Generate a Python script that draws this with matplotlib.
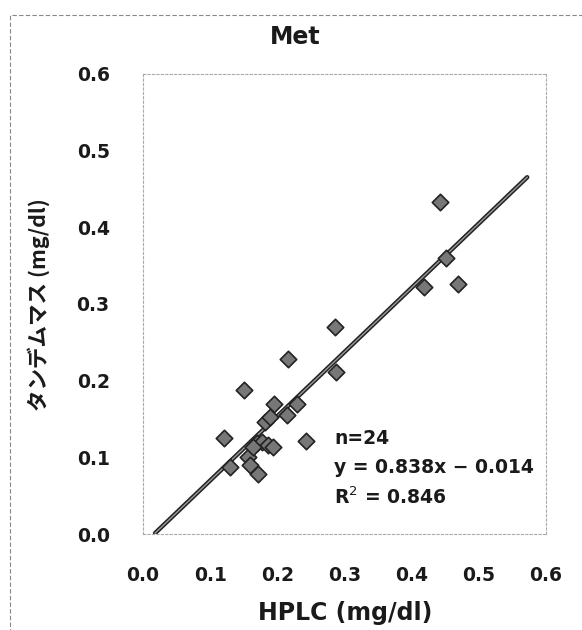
import matplotlib.pyplot as plt
from matplotlib.patches import Rectangle

# HPLC vs tandem mass, Met (mg/dl)
hplc = [0.121, 0.150, 0.216, 0.195, 0.229, 0.214, 0.182, 0.189, 0.243, 0.130,
        0.156, 0.159, 0.171, 0.170, 0.177, 0.186, 0.194, 0.164, 0.287, 0.286,
        0.442, 0.451, 0.418, 0.469]
tandem = [0.125, 0.188, 0.228, 0.170, 0.170, 0.155, 0.146, 0.153, 0.121, 0.087,
          0.100, 0.090, 0.078, 0.119, 0.120, 0.116, 0.113, 0.113, 0.211, 0.270,
          0.433, 0.360, 0.322, 0.326]
slope, intercept = 0.838, -0.014
fit_range = [0.018, 0.572]
ticks = [0.0, 0.1, 0.2, 0.3, 0.4, 0.5, 0.6]
tick_labels = ['0.0', '0.1', '0.2', '0.3', '0.4', '0.5', '0.6']
stats = ['n=24', 'y = 0.838x \u2212 0.014', 'R$^2$ = 0.846']

fig = plt.figure(figsize=(5.82, 6.3), dpi=100)
W, H = 582, 630
ax = fig.add_axes([143 / W, 1 - 534 / H, (546 - 143) / W, (534 - 74) / H])

# outer dashed frame of the original figure
fig.patches.append(Rectangle((10 / W, -0.05), 1.1, 1 - 15 / H + 0.05, transform=fig.transFigure,
                             fill=False, ec='#888888', lw=0.8, ls=(0, (4, 2))))

fit_y = [slope * x + intercept for x in fit_range]
ax.plot(fit_range, fit_y, color='#222222', lw=3.2, solid_capstyle='round', zorder=2)
ax.plot(fit_range, fit_y, color='#9a9a9a', lw=1.0, zorder=2)
ax.scatter(hplc, tandem, marker='D', s=70, color='#777777', edgecolor='#222222',
           linewidth=1.2, zorder=3)

ax.set_xlim(0, 0.6)
ax.set_ylim(0, 0.6)
ax.set_xticks(ticks)
ax.set_yticks(ticks)
ax.set_xticklabels(tick_labels, fontsize=13.5, fontweight='bold', family='DejaVu Sans', color='#1a1a1a')
ax.set_yticklabels(tick_labels, fontsize=13.5, fontweight='bold', family='DejaVu Sans', color='#1a1a1a')
ax.tick_params(length=0)
ax.tick_params(axis='x', pad=23)
ax.tick_params(axis='y', pad=24)
for s in ax.spines.values():
    s.set_linestyle((0, (2, 2)))
    s.set_color('#aaaaaa')
    s.set_linewidth(0.8)

for i, t in enumerate(stats):
    fig.text(334 / W, 1 - (438 + 29.5 * i) / H, t, ha='left', va='center', fontsize=13.5,
             fontweight='bold', family='DejaVu Sans', color='#1a1a1a')

fig.text(295 / W, 1 - 37 / H, 'Met', ha='center', va='center', fontsize=17,
         fontweight='bold', family='DejaVu Sans', color='#1a1a1a')
fig.text(345 / W, 1 - 613 / H, 'HPLC (mg/dl)', ha='center', va='center', fontsize=17,
         fontweight='bold', family='DejaVu Sans', color='#1a1a1a')
fig.text(39 / W, 1 - 305 / H, 'タンデムマス (mg/dl)', ha='center', va='center', rotation=90,
         fontsize=15.5, fontweight='bold', family=['Noto Sans CJK JP', 'DejaVu Sans'], color='#1a1a1a')

fig.savefig('out.png', dpi=100)
